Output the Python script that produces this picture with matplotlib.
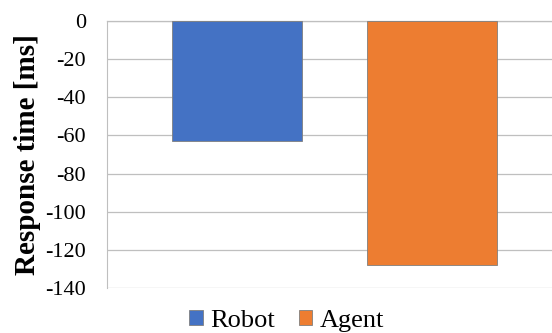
import matplotlib.pyplot as plt

# data
series = ['Robot', 'Agent']
response_ms = [-63, -128]
colors = ['#4472c4', '#ed7d31']
yticks = [0, -20, -40, -60, -80, -100, -120, -140]

plt.rcParams['font.family'] = ['Liberation Serif', 'DejaVu Serif']

fig = plt.figure(figsize=(5.52, 3.33), dpi=100)
ax = fig.add_axes([107 / 552, 45 / 333, 1 - 107 / 552, 267 / 333])

for i, (name, val, c) in enumerate(zip(series, response_ms, colors)):
    ax.bar(i, val, width=0.667, color=c, edgecolor='#7f7f7f', linewidth=0.6,
           label=name, zorder=3)

ax.set_ylim(-140, 0)
ax.set_xlim(-0.667, 1.615)
ax.set_yticks(yticks)
ax.set_yticklabels([str(t) for t in yticks], fontsize=16)
ax.set_xticks([])
ax.tick_params(axis='y', length=0, pad=15)
ax.grid(axis='y', color='#bfbfbf', linewidth=0.9, zorder=0)

for s in ['right', 'bottom']:
    ax.spines[s].set_visible(False)
ax.spines['left'].set_color('#bfbfbf')
ax.spines['top'].set_color('#bfbfbf')
ax.spines['top'].set_linewidth(0.9)

ax.set_ylabel('Response time [ms]', fontsize=21, fontweight='bold')
ax.yaxis.set_label_coords(-0.148, 0.5)

fig.legend(loc='center', bbox_to_anchor=(287 / 552, 0.036), ncol=2, frameon=False,
           fontsize=19, handlelength=0.5, handleheight=0.5, handletextpad=0.3,
           columnspacing=0.9)

fig.savefig('out.png', dpi=100)
